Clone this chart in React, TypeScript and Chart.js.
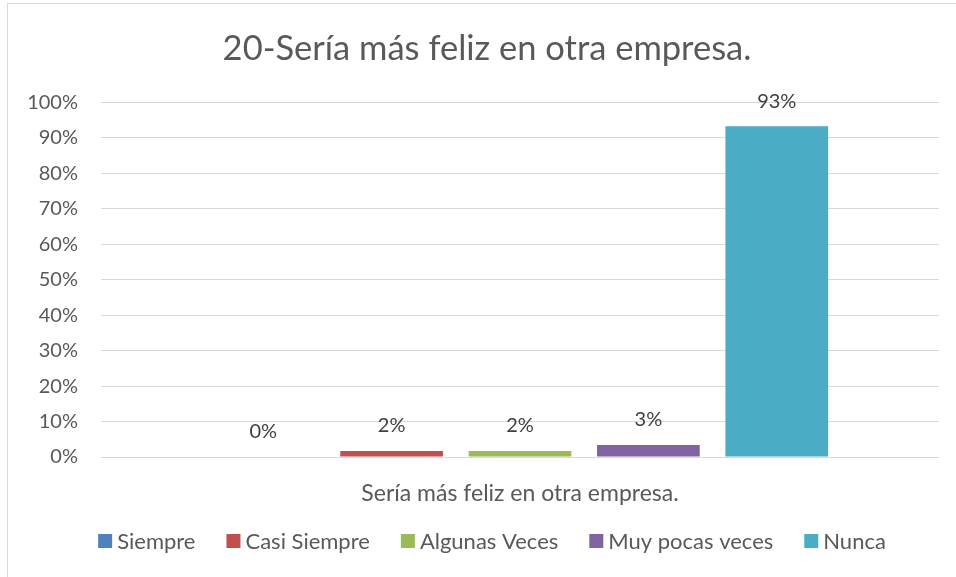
import React, { useEffect, useRef } from "react";
import { Chart, registerables } from "chart.js";

Chart.register(...registerables);

const categories = ["Sería más feliz en otra empresa."];
const seriesNames = ["Siempre", "Casi Siempre", "Algunas Veces", "Muy pocas veces", "Nunca"];
const seriesValues = [0, 1.7, 1.7, 3.4, 93.3];
const seriesColors = ["#4f81bd", "#c0504d", "#9bbb59", "#8064a2", "#4bacc6"];
const titleText = "20-Sería más feliz en otra empresa.";
const FONT = "Lato, 'Open Sans', sans-serif";

const frameLabelsLegend = {
  id: "frameLabelsLegend",
  beforeDraw(chart: any) {
    const ctx = chart.ctx;
    ctx.save();
    ctx.fillStyle = "#ffffff";
    ctx.fillRect(0, 0, chart.width, chart.height);
    ctx.strokeStyle = "#d9d9d9";
    ctx.lineWidth = 1;
    ctx.strokeRect(7.5, 3.5, chart.width + 20, chart.height + 20);
    ctx.restore();
  },
  afterDatasetsDraw(chart: any) {
    const ctx = chart.ctx;
    ctx.save();
    ctx.font = `20px ${FONT}`;
    ctx.fillStyle = "#404040";
    ctx.textAlign = "center";
    ctx.textBaseline = "middle";
    chart.data.datasets.forEach((ds: any, i: number) => {
      const meta = chart.getDatasetMeta(i);
      meta.data.forEach((el: any, j: number) => {
        const v = ds.data[j];
        ctx.fillText(Math.round(v) + "%", el.x, el.y - 25);
      });
    });
    ctx.restore();
  },
  afterDraw(chart: any) {
    // legend
    const ctx = chart.ctx;
    ctx.save();
    ctx.font = `22px ${FONT}`;
    ctx.textBaseline = "middle";
    ctx.textAlign = "left";
    const box = 14;
    const gapBoxText = 5;
    const gapItems = 31;
    const items = chart.data.datasets.map((ds: any) => ({
      label: ds.label,
      color: ds.backgroundColor,
      w: ctx.measureText(ds.label).width,
    }));
    let total = 0;
    items.forEach((it: any, i: number) => {
      total += box + gapBoxText + it.w + (i < items.length - 1 ? gapItems : 0);
    });
    const cx = 492;
    const cy = 541;
    let x = cx - total / 2;
    items.forEach((it: any) => {
      ctx.fillStyle = it.color;
      ctx.fillRect(x, cy - box / 2, box, box);
      ctx.fillStyle = "#595959";
      ctx.fillText(it.label, x + box + gapBoxText, cy + 1);
      x += box + gapBoxText + it.w + gapItems;
    });
    ctx.restore();
  },
};

export default function App() {
  const ref = useRef<HTMLCanvasElement | null>(null);
  useEffect(() => {
    if (!ref.current) return;
    const chart = new Chart(ref.current, {
      type: "bar",
      data: {
        labels: categories,
        datasets: seriesNames.map((name, i) => ({
          label: name,
          data: [seriesValues[i]],
          backgroundColor: seriesColors[i],
          borderWidth: 0,
          barPercentage: 0.8,
          categoryPercentage: 0.766,
        })),
      },
      options: {
        animation: false,
        responsive: false,
        maintainAspectRatio: false,
        layout: { padding: { left: 0, right: 0, top: 0, bottom: 66 } },
        plugins: {
          title: {
            display: true,
            text: titleText,
            color: "#595959",
            font: { family: FONT, size: 34.5, weight: "normal" },
            padding: { top: 28, bottom: 33 },
          },
          legend: { display: false },
          tooltip: { enabled: false },
        },
        scales: {
          x: {
            grid: { display: false },
            border: { display: false },
            ticks: { color: "#595959", font: { family: FONT, size: 23 }, padding: 15 },
            afterFit: (scale: any) => {
              scale.height = 54;
            },
          },
          y: {
            min: 0,
            max: 100,
            grid: { color: "#d9d9d9", drawTicks: false },
            border: { display: false },
            ticks: {
              stepSize: 10,
              color: "#595959",
              font: { family: FONT, size: 20 },
              padding: 23,
              callback: (v: any) => v + "%",
            },
            afterFit: (scale: any) => {
              scale.width = 101;
            },
          },
          yRight: {
            type: "linear",
            position: "right",
            display: true,
            grid: { display: false },
            border: { display: false },
            ticks: { display: false },
            afterFit: (scale: any) => {
              scale.width = 35;
            },
          },
        },
      },
      plugins: [frameLabelsLegend],
    });
    return () => chart.destroy();
  }, []);
  return (
    <div style={{ position: "fixed", left: 0, top: 0, width: 956, height: 577, overflow: "hidden", background: "#fff" }}>
      <canvas ref={ref} width={974} height={577} style={{ display: "block", width: 974, height: 577 }} />
    </div>
  );
}
